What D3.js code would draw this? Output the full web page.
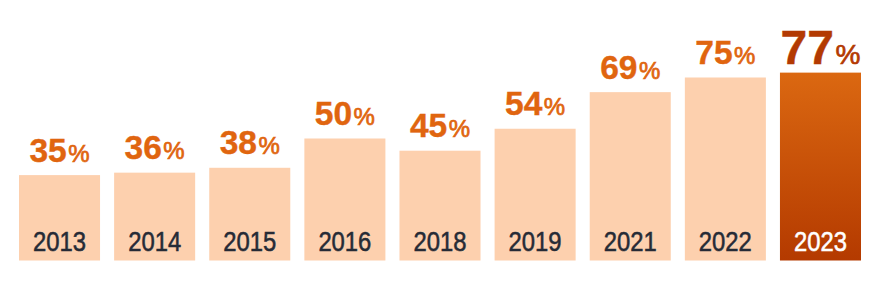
<!DOCTYPE html>
<html>
<head>
<meta charset="utf-8">
<script src="https://cdn.jsdelivr.net/npm/d3@7"></script>
<style>
  html, body { margin: 0; padding: 0; background: #fff; }
  svg { display: block; }
</style>
</head>
<body>
<svg id="chart" width="886" height="292"></svg>
<script>
const years = ["2013", "2014", "2015", "2016", "2018", "2019", "2021", "2022", "2023"];
const values = [35, 36, 38, 50, 45, 54, 69, 75, 77];
const highlightYear = "2023";

const svg = d3.select("#chart");
const W = 886, H = 292;

const x = d3.scaleBand()
  .domain(years)
  .range([19, 861])
  .paddingInner(0.148)
  .paddingOuter(0);

const y = d3.scaleLinear()
  .domain([0, 100])
  .range([260.5, 16.5]);

const defs = svg.append("defs");
const grad = defs.append("linearGradient")
  .attr("id", "hl").attr("x1", 0).attr("y1", 0).attr("x2", 0).attr("y2", 1);
grad.append("stop").attr("offset", "0%").attr("stop-color", "#DB6811");
grad.append("stop").attr("offset", "100%").attr("stop-color", "#B43A00");

const data = years.map((yr, i) => ({ year: yr, value: values[i] }));

svg.selectAll("rect.bar")
  .data(data)
  .join("rect")
  .attr("class", "bar")
  .attr("x", d => x(d.year))
  .attr("width", x.bandwidth())
  .attr("y", d => y(d.value))
  .attr("height", d => y(0) - y(d.value))
  .attr("fill", d => d.year === highlightYear ? "url(#hl)" : "#FDD0AE");

// value labels
const vl = svg.selectAll("text.val")
  .data(data)
  .join("text")
  .attr("class", "val")
  .attr("x", d => x(d.year) + x.bandwidth() / 2)
  .attr("y", d => y(d.value) - (d.year === highlightYear ? 9 : 13.5))
  .attr("text-anchor", "middle")
  .attr("font-family", "'Liberation Sans', Arial, Helvetica, sans-serif")
  .attr("fill", d => d.year === highlightYear ? "#B33A02" : "#E0650F");

vl.append("tspan")
  .attr("font-weight", "bold")
  .attr("font-size", d => d.year === highlightYear ? 48 : 33.5)
  .attr("stroke", d => d.year === highlightYear ? "#B33A02" : "#E0650F")
  .attr("stroke-width", 0.4)
  .text(d => d.value);
vl.append("tspan")
  .attr("font-weight", "normal")
  .attr("font-size", d => d.year === highlightYear ? 28 : 24)
  .attr("stroke", d => d.year === highlightYear ? "#B33A02" : "#E0650F")
  .attr("stroke-width", 0.7)
  .attr("dx", 1.5)
  .text("%");

// year labels
svg.selectAll("text.yr")
  .data(data)
  .join("text")
  .attr("class", "yr")
  .attr("x", d => x(d.year) + x.bandwidth() / 2)
  .attr("y", 250.5)
  .attr("text-anchor", "middle")
  .attr("font-family", "'Liberation Sans', Arial, sans-serif")
  .attr("font-size", 28)
  .attr("textLength", 53)
  .attr("lengthAdjust", "spacingAndGlyphs")
  .attr("fill", d => d.year === highlightYear ? "#ffffff" : "#262B36")
  .attr("stroke", d => d.year === highlightYear ? "#ffffff" : "#262B36")
  .attr("stroke-width", 0.55)
  .text(d => d.year);
</script>
</body>
</html>
